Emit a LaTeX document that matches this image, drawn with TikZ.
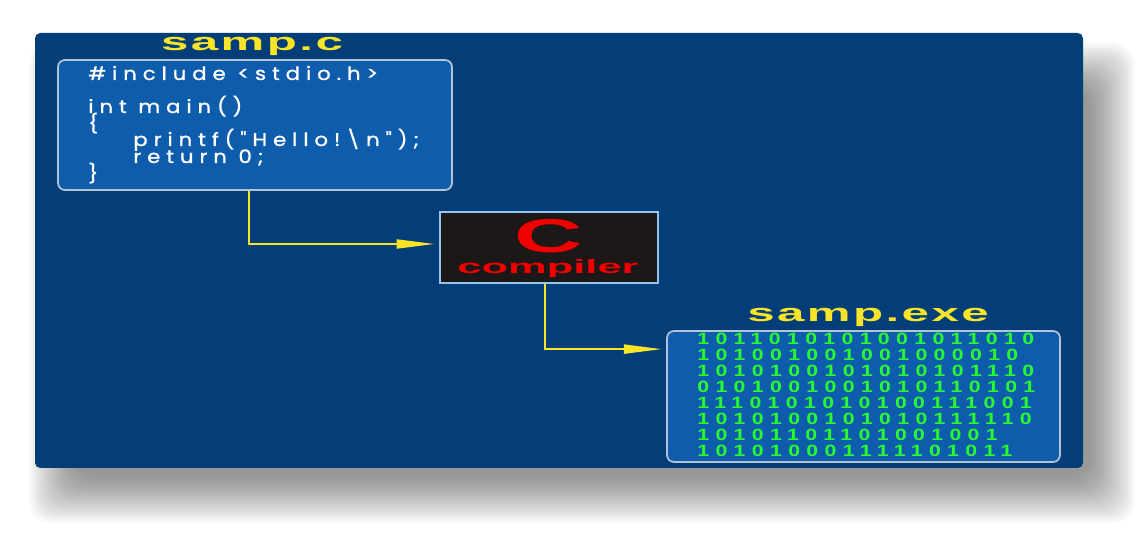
\documentclass[tikz,border=0pt]{standalone}
\usepackage{fontspec}
\setmainfont{Liberation Sans}
\newfontfamily\codefont{Poppins}[LetterSpace=28, FakeBold=1]
\newfontfamily\binfont{Liberation Sans}[LetterSpace=30]
\newfontfamily\ttlfont{Liberation Sans}[LetterSpace=5]
\usetikzlibrary{fit,calc,arrows.meta}
\definecolor{panelblue}{RGB}{3,62,120}
\definecolor{boxblue}{RGB}{14,92,172}
\definecolor{boxedge}{RGB}{178,196,216}
\definecolor{compfill}{RGB}{28,24,24}
\definecolor{compedge}{RGB}{150,196,236}
\definecolor{ayellow}{RGB}{250,228,40}
\definecolor{cred}{RGB}{240,0,0}
\definecolor{bgreen}{RGB}{40,250,50}
\tikzset{
  panel/.style={draw=none, fill=panelblue, rounded corners=3pt, inner sep=0pt},
  codebox/.style={draw=boxedge, line width=1pt, fill=boxblue, rounded corners=4pt, inner sep=0pt},
  compbox/.style={draw=compedge, line width=1.4pt, fill=compfill, inner sep=0pt},
  ttl/.style={text=ayellow, font=\ttlfont\bfseries\fontsize{14}{14}\selectfont, inner sep=0pt},
  codeline/.style={anchor=base west, inner sep=0pt, text=white, font=\codefont\fontsize{10.5}{10.5}\selectfont},
  binline/.style={anchor=base west, inner sep=0pt, text=bgreen, font=\binfont\bfseries\fontsize{9.3}{9.3}\selectfont},
  arr/.style={draw=ayellow, line width=1.5pt, -{Triangle[length=22pt,width=5pt]}, shorten >=2pt},
}
\newcommand{\cx}[1]{\scalebox{1.15}[1]{#1}}
\begin{document}
\begin{tikzpicture}[x=0.02cm,y=-0.02cm]
\useasboundingbox (0,0) rectangle (1147,533);
% soft drop shadow
\foreach \k in {0,...,25} {
  \fill[black, opacity=0.018, rounded corners=12pt]
    (74-1.8*\k, 88-1.8*\k) rectangle (1090+1.8*\k, 478+1.8*\k);
}
\node[panel, fit={(35,33) (1083,468)}] (panel) {};
% source box
\node[codebox, fit={(58,60) (452,190)}] (src) {};
\node[ttl] (srct) at (252,46) {\scalebox{2}[1]{samp.c}};
\node[codeline] (l1) at (88,80) {\cx{\#include <stdio.h>}};
\node[codeline] (l2) at (88,113) {\cx{int main()}};
\node[codeline] (l3) at (88,130) {\cx{\{}};
\node[codeline] (l4) at (133,146) {\cx{printf("Hello!\textbackslash n");}};
\node[codeline] (l5) at (133,163) {\cx{return 0;}};
\node[codeline] (l6) at (88,180) {\cx{\}}};
% compiler
\node[compbox, fit={(440,212) (658,283)}] (comp) {};
\node[text=cred, inner sep=0pt, font=\bfseries\fontsize{27}{27}\selectfont] (cc) at (549,236) {\scalebox{2}[1]{C}};
\node[text=cred, inner sep=0pt, font=\bfseries\fontsize{11}{11}\selectfont] (cl) at (548,269) {\scalebox{2.25}[1]{compiler}};
% exe box
\node[codebox, fit={(667,331) (1060,462)}] (exe) {};
\node[ttl] (exet) at (868,317) {\scalebox{2}[1]{samp.exe}};
\node[binline] (b1) at (697,345) {\scalebox{1.3}[1]{1011010101001011010}};
\node[binline] (b2) at (697,361) {\scalebox{1.3}[1]{101001001001000010}};
\node[binline] (b3) at (697,377) {\scalebox{1.3}[1]{1010100101010101110}};
\node[binline] (b4) at (697,393) {\scalebox{1.3}[1]{0101001001010110101}};
\node[binline] (b5) at (697,409) {\scalebox{1.3}[1]{1110101010100111001}};
\node[binline] (b6) at (697,425) {\scalebox{1.3}[1]{1010100101010111110}};
\node[binline] (b7) at (697,441) {\scalebox{1.3}[1]{10101101101001001}};
\node[binline] (b8) at (697,457) {\scalebox{1.3}[1]{101010001111101011}};
% connectors
\draw[arr] ($(src.south)+(-6,0)$) |- ($(comp.west)+(0,-3.5)$);
\draw[arr] ($(comp.south)+(-4,0)$) |- ($(exe.north west)+(0,19)$);
\end{tikzpicture}
\end{document}
